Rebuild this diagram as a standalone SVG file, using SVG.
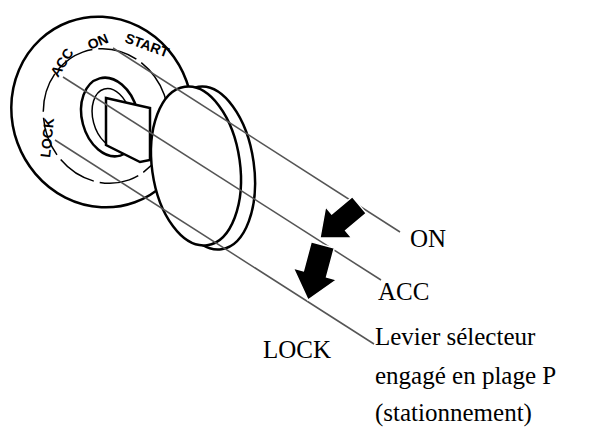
<svg xmlns="http://www.w3.org/2000/svg" width="604" height="435" viewBox="0 0 604 435">
<style>
.o{fill:#fff;stroke:#000;stroke-width:2.5}
.t{fill:none;stroke:#000;stroke-width:1.5}
.l{fill:none;stroke:#555;stroke-width:1.5}
.b{font-family:"Liberation Sans",Arial,sans-serif;font-size:14px;font-weight:bold}
.s{font-family:"Liberation Serif","Times New Roman",serif;font-size:25px}
.a{fill:#000;stroke:#fff;stroke-width:1}
</style>
<defs>
<path id="arr" d="M0,0 L18,-15 L18,-8 L38,-8 L38,8 L18,8 L18,15 Z"/>
</defs>
<rect width="604" height="435" fill="#fff"/>
<g id="bezel">
<ellipse class="o" cx="102" cy="112" rx="90" ry="96" transform="rotate(-20 102 112)"/>
<ellipse class="t" cx="106" cy="116" rx="62" ry="68" stroke-dasharray="40 6" transform="rotate(-20 106 116)"/>
<ellipse class="o" cx="110" cy="117" rx="28" ry="40" transform="rotate(-15 110 117)"/>
<ellipse class="t" cx="112" cy="118" rx="19" ry="30" transform="rotate(-15 112 118)"/>
<text class="b" transform="translate(58,78) rotate(-58)">ACC</text>
<text class="b" transform="translate(90,50) rotate(-22)">ON</text>
<text class="b" transform="translate(124,42) rotate(20)">START</text>
<text class="b" transform="translate(50,158) rotate(-84)">LOCK</text>
</g>
<g id="key">
<path class="o" d="M106,98 L150,108 L150,160 L140,162 L106,145 Z"/>
<ellipse class="o" cx="210" cy="168" rx="44" ry="82" transform="rotate(-8 210 168)"/>
<ellipse class="o" cx="196" cy="166" rx="44" ry="80" transform="rotate(-8 196 166)"/>
</g>
<g id="connectors">
<line class="l" x1="113" y1="48" x2="400" y2="232"/>
<line class="l" x1="63" y1="77" x2="381" y2="280"/>
<line class="l" x1="55" y1="140" x2="374" y2="344"/>
</g>
<g id="arrows">
<use href="#arr" class="a" transform="translate(320,238) rotate(-40) scale(1.35)"/>
<use href="#arr" class="a" transform="translate(308,300) rotate(-75) scale(1.5)"/>
</g>
<g id="labels">
<text class="s" x="410" y="247">ON</text>
<text class="s" x="378" y="300">ACC</text>
<text class="s" x="263" y="358">LOCK</text>
<text class="s" x="375" y="345">Levier sélecteur</text>
<text class="s" x="375" y="384">engagé en plage P</text>
<text class="s" x="375" y="421">(stationnement)</text>
</g>
</svg>
